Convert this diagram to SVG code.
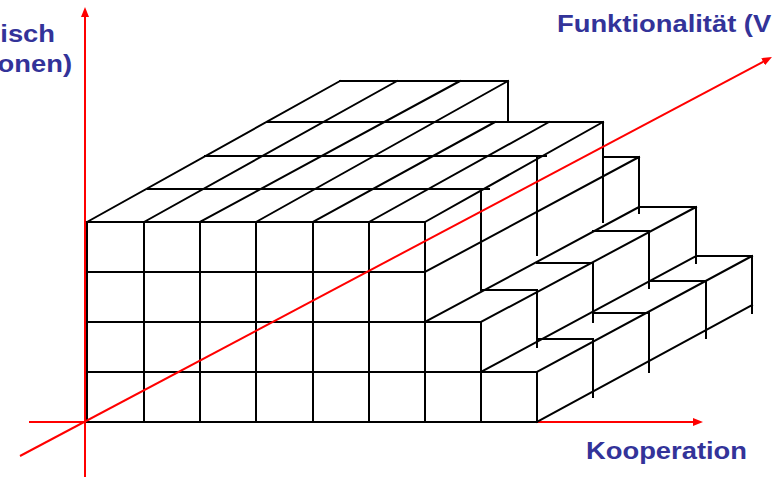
<svg xmlns="http://www.w3.org/2000/svg" width="773" height="477" viewBox="0 0 773 477">
<style>
.blk{fill:none;stroke:#000;stroke-width:2;stroke-linecap:square}
.ax{fill:none;stroke:#ff0000;stroke-width:2}
.lbl{font-family:"Liberation Sans",Arial,sans-serif;font-weight:bold;font-size:24px;fill:#333399}
</style>
<defs>
<marker id="ah" markerWidth="10" markerHeight="8" refX="2" refY="4" orient="auto" markerUnits="userSpaceOnUse">
<path d="M0,0 L10,4 L0,8 z" fill="#ff0000"/>
</marker>
</defs>
<rect width="773" height="477" fill="#ffffff"/>
<g id="axes-back">
<path class="ax" d="M29,422 H695" marker-end="url(#ah)"/>
<path class="ax" d="M85,477 V15" marker-end="url(#ah)"/>
</g>
<g id="front-face">
<path class="blk" d="M87,222 H425 M87,272 H425 M87,322 H481 M87,372 H537 M87,422 H537 M87,222 V422 M144,222 V422 M200,222 V422 M256,222 V422 M313,222 V422 M369,222 V422 M425,222 V422 M481,322 V422 M537,372 V422"/>
</g>
<g id="top-face">
<path class="blk" d="M87,222 L340,81 M144,222 L397,81 M200,222 L460,81 M256,222 L508,81 M313,222 L495,122 M369,222 L549,122 M425,222 L603,122 M340,81 H508 V122 M148,189 H489 M205,156 H546 M267,122 H603"/>
</g>
<g id="right-face">
<path class="blk" d="M425,272 L639,157 M425,322 L639,207 M481,189 V289 M537,156 V255 M603,122 V222 M603,157 H639 V213"/>
</g>
<g id="step-2">
<path class="blk" d="M481,290 H537 M537,263 H593 M593,231 H649 M639,207 H696 M481,322 L696,207 M537,290 V347 M593,263 V322 M649,231 V288 M696,207 V263 M481,372 L696,256"/>
</g>
<g id="step-1">
<path class="blk" d="M537,339 H593 M593,313 H649 M649,281 H706 M696,256 H752 M537,372 L752,256 M593,339 V397 M649,313 V372 M706,281 V338 M752,256 V313 M537,422 L752,305"/>
</g>
<g id="axes-front">
<path class="ax" d="M20,456 L764.9,60.8" marker-end="url(#ah)"/>
</g>
<g id="labels">
<text class="lbl" text-anchor="end" transform="translate(55,42) scale(1.14,1)">isch</text>
<text class="lbl" text-anchor="end" transform="translate(72,72) scale(1.14,1)">onen)</text>
<text class="lbl" transform="translate(557,32) scale(1.14,1)">Funktionalität (V</text>
<text class="lbl" transform="translate(586,459) scale(1.14,1)">Kooperation</text>
</g>
</svg>
